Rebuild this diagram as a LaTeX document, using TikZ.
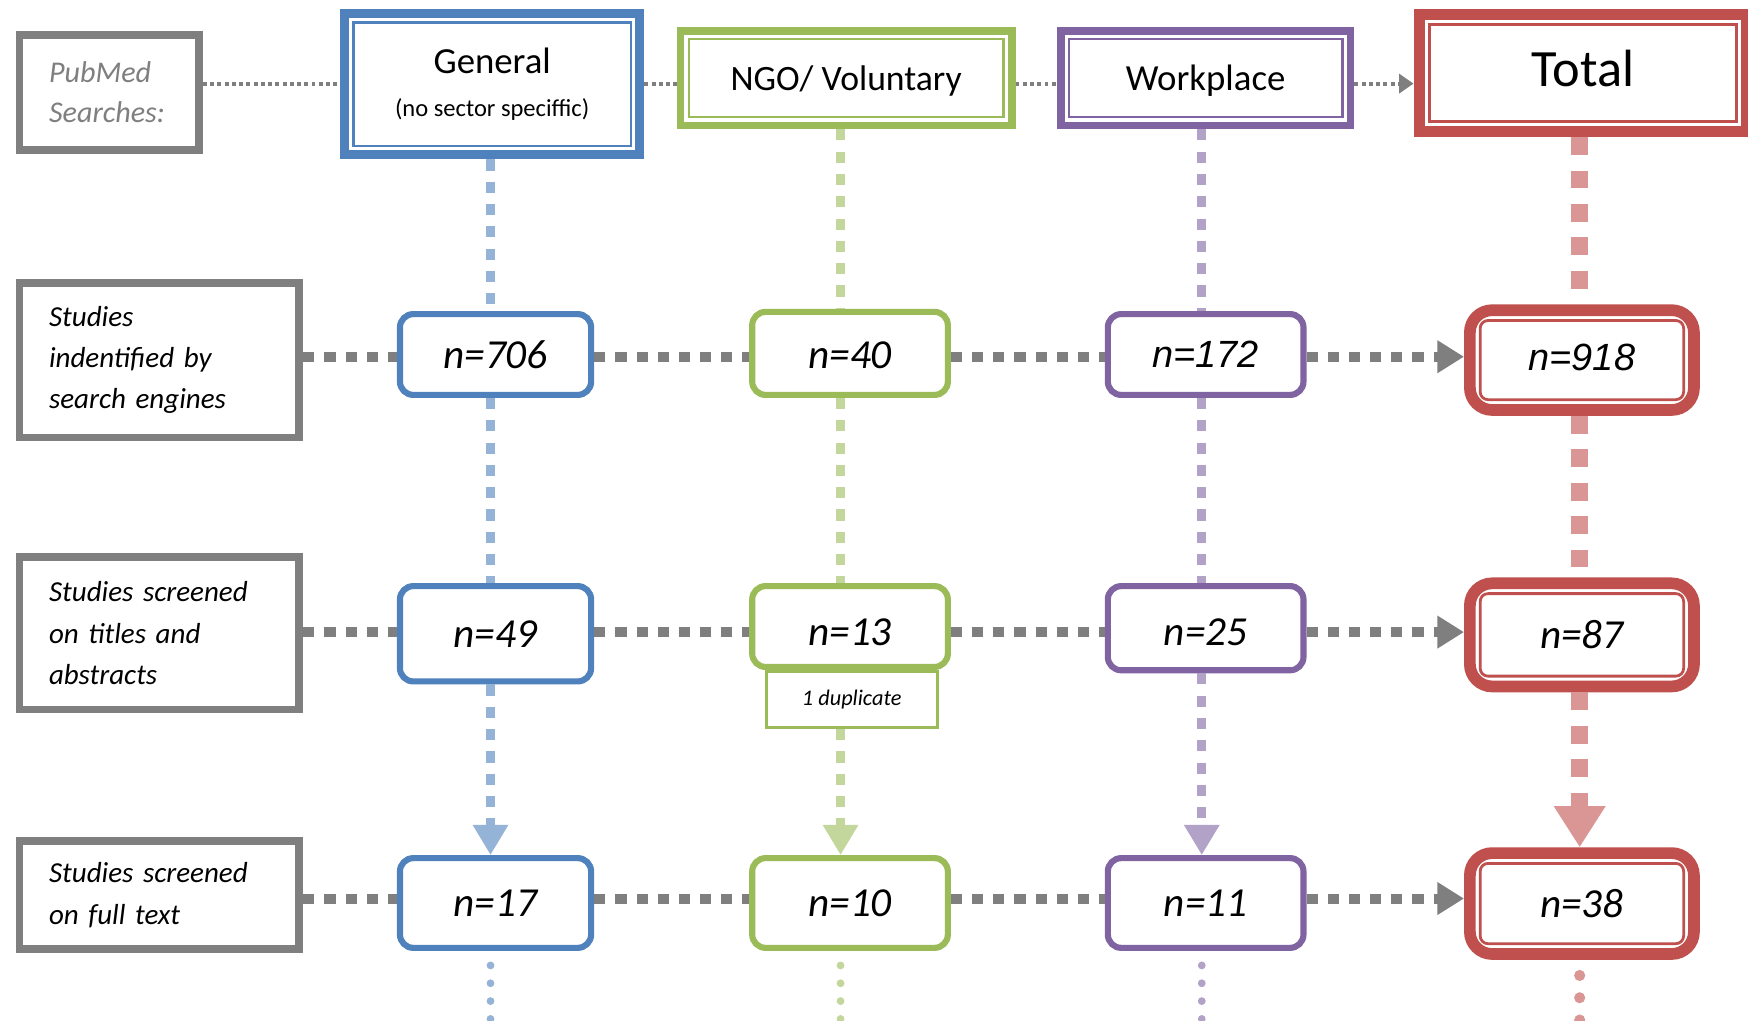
\documentclass[tikz,border=0pt]{standalone}
\usepackage{fontspec}
\setmainfont{Carlito}
\newfontfamily\arialf{Liberation Sans}
\usetikzlibrary{arrows.meta}
\definecolor{cblue}{HTML}{4F81BD}
\definecolor{lblue}{HTML}{95B3D7}
\definecolor{cgreen}{HTML}{9BBB59}
\definecolor{lgreen}{HTML}{C3D69B}
\definecolor{cpurple}{HTML}{8064A2}
\definecolor{lpurple}{HTML}{B3A2C7}
\definecolor{cred}{HTML}{C0504D}
\definecolor{lred}{HTML}{D99694}
\definecolor{cgray}{HTML}{7F7F7F}
\newcommand\nfont{\itshape\fontsize{37}{37}\selectfont}
\newcommand\afont{\arialf\itshape\fontsize{34}{34}\selectfont}
\tikzset{
  hdr/.style={draw=#1, fill=white, inner sep=0pt, align=center},
  lblbox/.style={draw=cgray, fill=white, line width=7pt, inner ysep=0pt, inner xsep=26.5pt,
     text width=198pt, align=left, minimum width=251pt, font=\itshape\fontsize{26}{37}\selectfont},
  nbox/.style={draw=#1, fill=white, line width=5.5pt, rounded corners=12pt, inner sep=0pt, font=\nfont},
  tbox/.style={draw=cred, fill=white, line width=10.5pt, rounded corners=20pt, inner sep=0pt,
     minimum width=201pt, font=\nfont},
  hcon/.style={draw=cgray, line width=9pt, dash pattern=on 10pt off 9pt},
  tcon/.style={draw=cgray, line width=3.5pt, dash pattern=on 3.5pt off 3pt},
  vcon/.style={draw=#1, line width=8pt, dash pattern=on 10pt off 10pt},
  rcon/.style={draw=lred, line width=15pt, dash pattern=on 16pt off 14pt},
  dotcon/.style={draw=#1, line width=7pt, line cap=round, dash pattern=on 0pt off 16pt, shorten <=13pt},
  rdotcon/.style={draw=lred, line width=10pt, line cap=round, dash pattern=on 0pt off 20pt, shorten <=14pt},
  htip/.style={-{Triangle[length=24pt,width=28pt]}},
  stip/.style={-{Triangle[length=13pt,width=17pt]}},
  vtip/.style={-{Triangle[length=27pt,width=30pt]}},
  rtip/.style={-{Triangle[length=37pt,width=44pt]}}
}
\begin{document}
\begin{tikzpicture}[x=1pt,y=-1pt]
\fill[white] (0,0) rectangle (1568,915);
\useasboundingbox (0,0) rectangle (1568,915);

% row / column reference coordinates
\coordinate (r1) at (0,75);
\coordinate (r2) at (0,320);
\coordinate (r3) at (0,567);
\coordinate (r4) at (0,806);
\coordinate (c1) at (440,0);
\coordinate (c2) at (754,0);
\coordinate (c3) at (1078,0);
\coordinate (c4) at (1417,0);
\coordinate (e1) at (440,930);
\coordinate (e2) at (754,930);
\coordinate (e3) at (1078,930);
\coordinate (e4) at (1417,930);

% header row
\node[hdr=cgray, line width=7pt, minimum width=161pt, minimum height=103pt, inner xsep=26.5pt,
      text width=108pt, align=left, text=cgray, font=\itshape\fontsize{27}{36}\selectfont]
      (pub) at (98,83) {PubMed\\Searches:};
\node[hdr=cblue, line width=8pt, minimum width=265pt, minimum height=127pt,
      font=\fontsize{22}{38}\selectfont] (gen) at (441.5,75.5)
      {{\fontsize{33}{33}\selectfont General}\\(no sector speciffic)};
\node[hdr=cgreen, line width=7pt, minimum width=297pt, minimum height=85pt,
      text height=25pt, text depth=2pt,
      font=\fontsize{32}{32}\selectfont] (ngo) at (759,70) {NGO/ Voluntary};
\node[hdr=cpurple, line width=7pt, minimum width=260pt, minimum height=85pt,
      text height=25pt, text depth=2pt,
      font=\fontsize{33}{33}\selectfont] (wrk) at (1081.5,70) {Workplace};
\node[hdr=cred, line width=10pt, minimum width=294pt, minimum height=105pt,
      text height=30pt, text depth=5pt,
      font=\fontsize{47}{47}\selectfont] (tot) at (1420,65.5) {Total};
\draw[cblue, line width=2.5pt] ([shift={(12pt,-12pt)}]gen.north west) rectangle ([shift={(-12pt,12pt)}]gen.south east);
\draw[cgreen, line width=2.5pt] ([shift={(11pt,-11pt)}]ngo.north west) rectangle ([shift={(-11pt,11pt)}]ngo.south east);
\draw[cpurple, line width=2.5pt] ([shift={(11pt,-11pt)}]wrk.north west) rectangle ([shift={(-11pt,11pt)}]wrk.south east);
\draw[cred, line width=2.5pt] ([shift={(14pt,-14pt)}]tot.north west) rectangle ([shift={(-14pt,14pt)}]tot.south east);

% left labels
\node[lblbox, minimum height=139pt] (l2) at (143,323) {Studies\\indentified by\\search engines};
\node[lblbox, minimum height=137pt] (l3) at (143,568) {Studies screened\\on titles and\\abstracts};
\node[lblbox, minimum height=97pt] (l4) at (143,803) {Studies screened\\on full text};

% row 2
\node[nbox=cblue, minimum width=171.5pt, minimum height=72.5pt] (a2) at (444.5,318) {n=706};
\node[nbox=cgreen, minimum width=175.5pt, minimum height=74.5pt, text height=27pt, text depth=0pt] (b2) at (762.5,317) {n=40};
\node[nbox=cpurple, minimum width=175.5pt, minimum height=72.5pt, font=\afont] (d2) at (1081.5,318) {n=172};
\node[tbox, minimum height=89.5pt, font=\afont, text height=24.3pt, text depth=6pt] (t2) at (1419,323) {n=918};

% row 3
\node[nbox=cblue, minimum width=171.5pt, minimum height=85.5pt] (a3) at (444.5,568.5) {n=49};
\node[nbox=cgreen, minimum width=175.5pt, minimum height=72.5pt, text height=33.5pt, text depth=0pt] (b3) at (762.5,562) {n=13};
\node[draw=cgreen, fill=white, line width=2.5pt, inner sep=0pt, minimum width=153.5pt, minimum height=50.5pt,
      anchor=north, font=\itshape\fontsize{20}{20}\selectfont] (dup) at ([xshift=1.5pt]b3.south) {1 duplicate};
\node[nbox=cpurple, minimum width=175.5pt, minimum height=75.5pt, text height=30.5pt, text depth=0pt] (d3) at (1081.5,563.5) {n=25};
\node[tbox, minimum height=92.5pt] (t3) at (1419,569.5) {n=87};

% row 4
\node[nbox=cblue, minimum width=171.5pt, minimum height=80.5pt] (a4) at (444.5,810) {n=17};
\node[nbox=cgreen, minimum width=175.5pt, minimum height=80.5pt] (b4) at (762.5,810) {n=10};
\node[nbox=cpurple, minimum width=175.5pt, minimum height=80.5pt] (d4) at (1081.5,810) {n=11};
\node[tbox, minimum height=90.5pt] (t4) at (1419,810.5) {n=38};

% inner lines of the total boxes
\foreach \t in {t2,t3,t4}{
  \draw[cred, line width=2.5pt, rounded corners=7pt] ([shift={(14.5pt,-14.5pt)}]\t.north west) rectangle ([shift={(-14.5pt,14.5pt)}]\t.south east);
}

% top connectors
\draw[tcon] (pub.east |- r1) -- (gen.west |- r1);
\draw[tcon] (gen.east |- r1) -- (ngo.west |- r1);
\draw[tcon] (ngo.east |- r1) -- (wrk.west |- r1);
\draw[tcon, stip] (wrk.east |- r1) -- (tot.west |- r1);

% row connectors
\foreach \r/\l/\a/\b/\d/\t in {r2/l2/a2/b2/d2/t2, r3/l3/a3/b3/d3/t3, r4/l4/a4/b4/d4/t4}{
  \draw[hcon] (\l.east |- \r) -- (\a.west |- \r);
  \draw[hcon] (\a.east |- \r) -- (\b.west |- \r);
  \draw[hcon] (\b.east |- \r) -- (\d.west |- \r);
  \draw[hcon, htip] (\d.east |- \r) -- (\t.west |- \r);
}

% column connectors
\draw[vcon=lblue] (gen.south -| c1) -- (a2.north -| c1);
\draw[vcon=lblue] (a2.south -| c1) -- (a3.north -| c1);
\draw[vcon=lblue, vtip] (a3.south -| c1) -- (a4.north -| c1);
\draw[dotcon=lblue] (a4.south -| c1) -- (e1);

\draw[vcon=lgreen] (ngo.south -| c2) -- (b2.north -| c2);
\draw[vcon=lgreen] (b2.south -| c2) -- (b3.north -| c2);
\draw[vcon=lgreen, vtip] (dup.south -| c2) -- (b4.north -| c2);
\draw[dotcon=lgreen] (b4.south -| c2) -- (e2);

\draw[vcon=lpurple] (wrk.south -| c3) -- (d2.north -| c3);
\draw[vcon=lpurple] (d2.south -| c3) -- (d3.north -| c3);
\draw[vcon=lpurple, vtip] (d3.south -| c3) -- (d4.north -| c3);
\draw[dotcon=lpurple] (d4.south -| c3) -- (e3);

\draw[rcon] (tot.south -| c4) -- (t2.north -| c4);
\draw[rcon] (t2.south -| c4) -- (t3.north -| c4);
\draw[rcon, rtip] (t3.south -| c4) -- (t4.north -| c4);
\draw[rdotcon] (t4.south -| c4) -- (e4);
\end{tikzpicture}
\end{document}
